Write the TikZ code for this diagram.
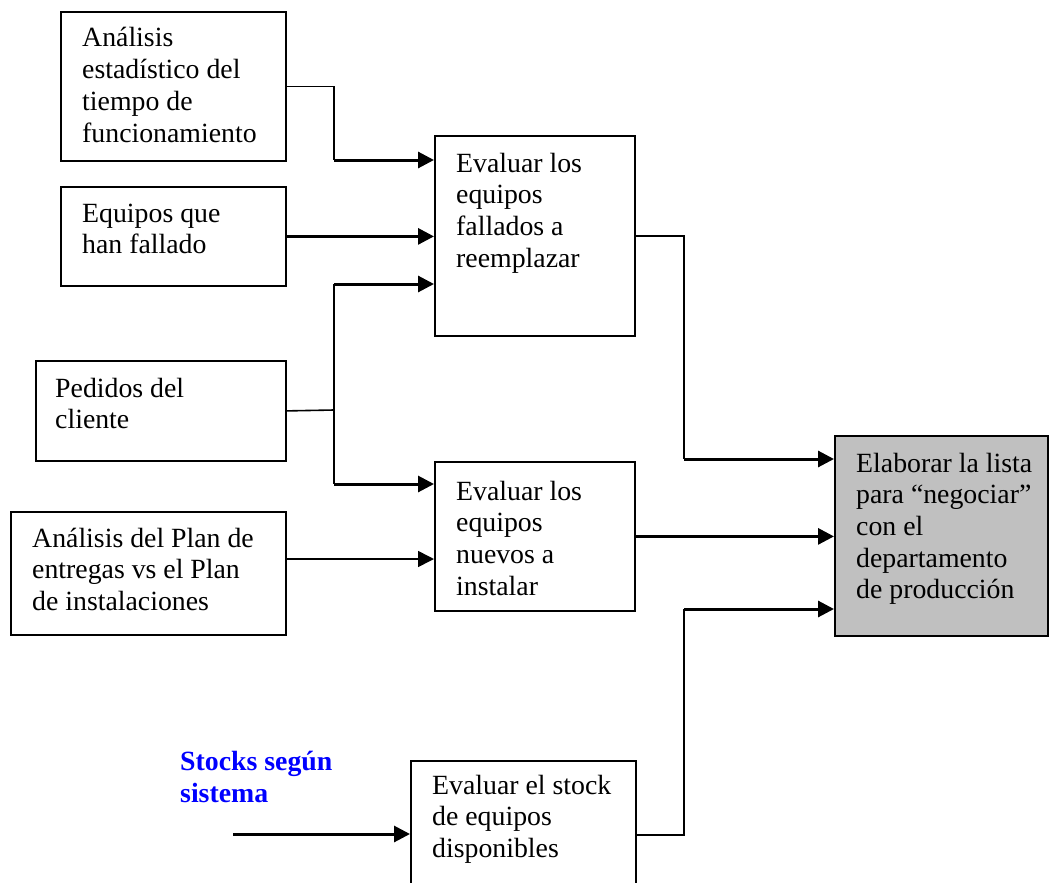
\documentclass[tikz,border=0pt]{standalone}
\usepackage{fontspec}
\setmainfont{Liberation Serif}
\usetikzlibrary{arrows.meta,calc}
\definecolor{boxgray}{RGB}{192,192,192}
\definecolor{labelblue}{RGB}{0,0,255}

% top-aligned block of lines; its baseline is the first line's baseline
\newcommand\boxlines[1]{\parbox[t]{300pt}{#1}}

\tikzset{
  frame/.style={draw=black, line width=1.8pt, inner sep=0pt, anchor=north west},
  boxtext/.style={inner sep=0pt, anchor=base west, font=\fontsize{27.8}{31.7}\selectfont},
  link/.style={line width=1.6pt},
  feed/.style={line width=3pt, -{Triangle[length=16pt,width=16pt]}},
  feedthin/.style={line width=1.6pt, -{Triangle[length=16pt,width=16pt]}},
}

\begin{document}
\begin{tikzpicture}[x=1pt, y=-1pt]
\useasboundingbox (0,0) rectangle (1049,883);
\clip (0,0) rectangle (1049,883);

% input boxes
\node[frame, minimum width=225pt, minimum height=149pt] (A) at (60,11) {};
\node[boxtext] (Atext) at ($(A.north west)+(22,36)$)
  {\boxlines{Análisis\\estadístico del\\tiempo de\\funcionamiento}};

\node[frame, minimum width=225pt, minimum height=99pt] (B) at (60,186) {};
\node[boxtext] (Btext) at ($(B.north west)+(22,36)$)
  {\boxlines{Equipos que\\han fallado}};

\node[frame, minimum width=250pt, minimum height=100pt] (C) at (35,360) {};
\node[boxtext] (Ctext) at ($(C.north west)+(20,37)$)
  {\boxlines{Pedidos del\\cliente}};

\node[frame, minimum width=275pt, minimum height=123pt] (D) at (10,511) {};
\node[boxtext] (Dtext) at ($(D.north west)+(22,36)$)
  {\boxlines{Análisis del Plan de\\entregas vs el Plan\\de instalaciones}};

% evaluation boxes
\node[frame, minimum width=200pt, minimum height=200pt] (E) at (434,135) {};
\node[boxtext] (Etext) at ($(E.north west)+(22,37)$)
  {\boxlines{Evaluar los\\equipos\\fallados a\\reemplazar}};

\node[frame, minimum width=200pt, minimum height=149pt] (F) at (434,461) {};
\node[boxtext] (Ftext) at ($(F.north west)+(22,39)$)
  {\boxlines{Evaluar los\\equipos\\nuevos a\\instalar}};

\node[frame, minimum width=225pt, minimum height=148pt] (H) at (410,760) {};
\node[boxtext] (Htext) at ($(H.north west)+(22,34)$)
  {\boxlines{Evaluar el stock\\de equipos\\disponibles}};

% result box
\node[frame, fill=boxgray, minimum width=213pt, minimum height=200pt] (G) at (834,435) {};
\node[boxtext] (Gtext) at ($(G.north west)+(22,37)$)
  {\boxlines{Elaborar la lista\\para “negociar”\\con el\\departamento\\de producción}};

% external input label
\node[inner sep=0pt, anchor=base west, text=labelblue,
      font=\fontsize{27.8}{32.7}\selectfont\bfseries] (S) at (180,770)
  {\boxlines{Stocks según\\sistema}};

% junction points of the connectors
\coordinate (jA) at (334,160);
\coordinate (jCtop) at (334,284);
\coordinate (jCbot) at (334,484);
\coordinate (jC) at (334,410);
\coordinate (jD) at (300,559);
\coordinate (jE) at (684,459);
\coordinate (jH) at (684,609);
\coordinate (sIn) at (233,834);

% connectors into "Evaluar los equipos fallados"
\draw[link] (A.east) -| (jA);
\draw[feed] (jA) -- (E.west |- jA);
\draw[feed] (B.east) -- (E.west |- B.east);
\draw[link] (C.east) -- (jC);
\draw[link] (jCtop) -- (jCbot);
\draw[feed] (jCtop) -- (E.west |- jCtop);

% connectors into "Evaluar los equipos nuevos"
\draw[feed] (jCbot) -- (F.west |- jCbot);
\draw[feedthin] (D.east |- jD) -- (F.west |- jD);

% connectors into the result box
\draw[link] (E.east) -| (jE);
\draw[feed] (jE) -- (G.west |- jE);
\draw[feed] (F.east) -- (G.west |- F.east);
\draw[link] (H.east) -| (jH);
\draw[feed] (jH) -- (G.west |- jH);

% stock input
\draw[feed] (sIn) -- (H.west |- sIn);
\end{tikzpicture}
\end{document}
